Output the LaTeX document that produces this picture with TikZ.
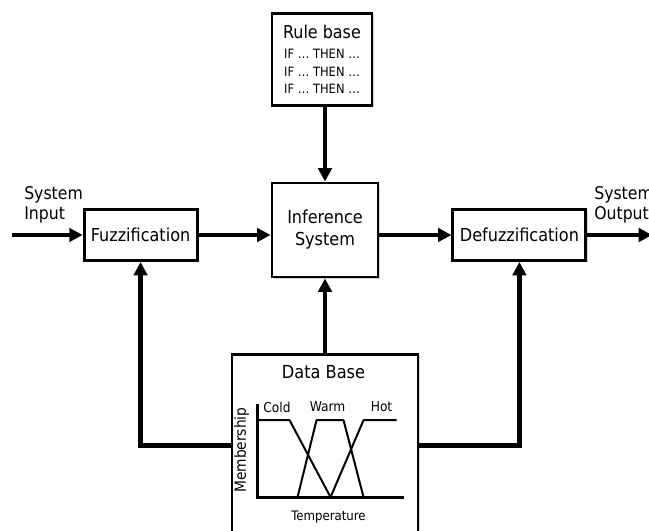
\documentclass[tikz,border=0pt]{standalone}
\usepackage{fontspec}
\setmainfont{DejaVu Sans Condensed}
\usetikzlibrary{arrows.meta, positioning, shadows}
\tikzset{
  blk/.style  = {rectangle, draw=black, line width=2.2pt, fill=white,
                 drop shadow={shadow xshift=1.2pt, shadow yshift=-1.2pt,
                 opacity=0.35}, align=center, inner sep=2pt,
                 font=\fontsize{13.4pt}{16.5pt}\selectfont},
  lbl/.style  = {inner sep=0pt, align=left,
                 font=\fontsize{13.1pt}{15pt}\selectfont},
  arr/.style  = {-{Triangle[length=10pt,width=10pt]}, line width=3.6pt},
  ax/.style   = {line width=2.2pt},
  mf/.style   = {line width=1.5pt, line join=round},
  mlbl/.style = {inner sep=0pt, font=\fontsize{10.2pt}{12pt}\selectfont},
}
\begin{document}
\begin{tikzpicture}[x=0.75pt, y=-0.75pt, node distance=56pt and 54pt]
  \useasboundingbox (0,0) rectangle (649,531);

  \node[blk, minimum width=79.5pt, minimum height=70.5pt] (inf) at (325,230)
    {Inference\\System};
  \node[blk, minimum width=84.75pt, minimum height=38.25pt,
        left=of inf, yshift=-3.75pt]  (fuzz)   {Fuzzification};
  \node[blk, minimum width=99.75pt, minimum height=38.25pt,
        right=of inf, yshift=-3.75pt] (defuzz) {Defuzzification};
  \node[blk, minimum width=75pt, minimum height=69pt,
        above=of inf, xshift=-2.25pt, font=\fontsize{9.6pt}{13pt}\selectfont]
    (rule) {{\fontsize{13.3pt}{16pt}\selectfont Rule base}\\[2pt]
            IF \ldots{} THEN \ldots\\ IF \ldots{} THEN \ldots\\
            IF \ldots{} THEN \ldots};
  \node[blk, minimum width=139.5pt, minimum height=150pt,
        below=of inf, anchor=north] (db) {};

  % data base contents
  \begin{scope}[shift={(db.north west)}]
    \node[inner sep=0pt, font=\fontsize{13.5pt}{16pt}\selectfont]
      (dbtitle) at (93,19) {Data Base};
    \draw[ax] (27,51) -- (27,144) -- (173,144);
    \draw[mf] (27,67) -- (59,67) -- (100,144);
    \draw[mf] (67,144) -- (86,67) -- (113,67) -- (133,144);
    \draw[mf] (100,144) -- (133,67) -- (166,67);
    \node[mlbl] (cold) at (46.5,54) {Cold};
    \node[mlbl] (warm) at (97,54)   {Warm};
    \node[mlbl] (hot)  at (151,54)  {Hot};
    \node[inner sep=0pt, rotate=90, font=\fontsize{11.5pt}{14pt}\selectfont]
      (memb) at (11,97) {Membership};
    \node[inner sep=0pt, font=\fontsize{9.8pt}{12pt}\selectfont]
      (temp) at (98,164) {Temperature};
    \coordinate (dbl) at (0,92);
    \coordinate (dbr) at (186,92);
  \end{scope}

  % system in / out
  \coordinate (sysin)  at (12,235);
  \coordinate (sysout) at (652,235);
  \node[lbl, anchor=north west] (lin)  at (24,186)  {System\\Input};
  \node[lbl, anchor=north west] (lout) at (594,186) {System\\Output};

  \draw[arr] (sysin) -- (fuzz.west);
  \draw[arr] (fuzz.east) -- (fuzz.east -| inf.west);
  \draw[arr] (inf.east |- defuzz.west) -- (defuzz.west);
  \draw[arr] (defuzz.east) -- (sysout);
  \draw[arr] (inf.north |- rule.south) -- (inf.north);
  \draw[arr] (db.north) -- (inf.south);

  % feedback from data base
  \draw[arr] (dbl) -| (fuzz.south);
  \draw[arr] (dbr) -| (defuzz.south);

\end{tikzpicture}
\end{document}
